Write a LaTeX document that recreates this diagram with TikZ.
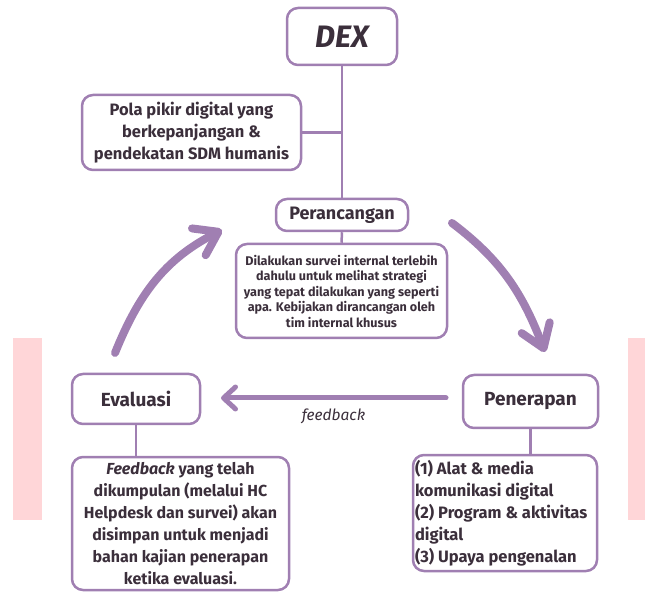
\documentclass[tikz,border=0pt]{standalone}
\usepackage{fontspec}
\setmainfont{Fira Sans}
\usetikzlibrary{arrows.meta,calc}
\definecolor{lav}{HTML}{A07FB2}
\definecolor{ink}{HTML}{3B2F3B}
\definecolor{pinkbar}{HTML}{FFD6D8}
\tikzset{
  box/.style={draw=lav, line width=2.5pt, rounded corners=11pt, fill=white, text=ink, font=\bfseries, align=center, inner sep=0pt},
  link/.style={draw=lav, line width=2.5pt},
  bigarrow/.style={draw=lav, line width=8pt, line cap=round, -{Straight Barb[length=22pt,width=30pt,round]}},
}
\begin{document}
\begin{tikzpicture}[x=1pt,y=1pt]
\useasboundingbox (0,0) rectangle (645,592);
\fill[pinkbar] (13,72) rectangle (42,254);
\fill[pinkbar] (628,72) rectangle (645,254);

\node[box, minimum width=110pt, minimum height=57pt, font=\fontsize{31}{34}\selectfont\bfseries\itshape] (dex) at (342,555.5) {DEX};
\node[box, minimum width=219pt, minimum height=75pt, font=\fontsize{16.5}{22}\selectfont\bfseries] (pola) at (191.5,459.5) {Pola pikir digital yang\\berkepanjangan \&\\pendekatan SDM humanis};
\node[box, minimum width=132pt, minimum height=32pt, font=\fontsize{18}{20}\selectfont\bfseries] (peran) at (342,377) {Perancangan};
\node[box, minimum width=211pt, minimum height=94pt, font=\fontsize{12.6}{15.5}\selectfont\bfseries] (desc) at (341.5,301) {Dilakukan survei internal terlebih\\dahulu untuk melihat strategi\\yang tepat dilakukan yang seperti\\apa. Kebijakan dirancangan oleh\\tim internal khusus};
\node[box, minimum width=128pt, minimum height=50pt, font=\fontsize{19}{21}\selectfont\bfseries] (eval) at (136,193) {Evaluasi};
\node[box, minimum width=135pt, minimum height=53pt, font=\fontsize{19}{21}\selectfont\bfseries] (pener) at (530.5,190.5) {Penerapan};
\node[box, minimum width=217pt, minimum height=133pt, font=\fontsize{16}{22}\selectfont\bfseries] (fb) at (180.5,68.5) {\textit{Feedback} yang telah\\dikumpulan (melalui HC\\Helpdesk dan survei) akan\\disimpan untuk menjadi\\bahan kajian penerapan\\ketika evaluasi.};
\node[box, minimum width=184pt, minimum height=116pt, align=left, font=\fontsize{16.5}{22}\selectfont\bfseries] (list) at (505,79) {\parbox{180pt}{\raggedright (1) Alat \& media\\komunikasi digital\\(2) Program \& aktivitas\\digital\\(3) Upaya pengenalan}};

\draw[link] (dex.south) -- (peran.north);
\draw[link] (pola.east) -- (pola.east -| dex.south);
\draw[link] (peran.south) -- (desc.north);
\draw[link] (eval.south) -- (eval.south |- fb.north);
\draw[link] (pener.south) -- (pener.south |- list.north);

\coordinate (la) at (115,239);
\coordinate (lb) at (222,362);
\coordinate (ra) at (452,369);
\coordinate (rb) at (545,240);
\coordinate (fa) at (446,194);
\coordinate (fz) at (221,194);
\draw[bigarrow] (la) to[out=68, in=207] (lb);
\draw[bigarrow] (ra) to[out=-37, in=111] (rb);
\draw[draw=lav, line width=5pt, line cap=round, -{Straight Barb[length=12pt,width=22pt,round]}] (fa) -- (fz) node[pos=0.5, below=5pt, text=ink, font=\fontsize{15.5}{17}\selectfont\itshape] (fblabel) {feedback};
\end{tikzpicture}
\end{document}
